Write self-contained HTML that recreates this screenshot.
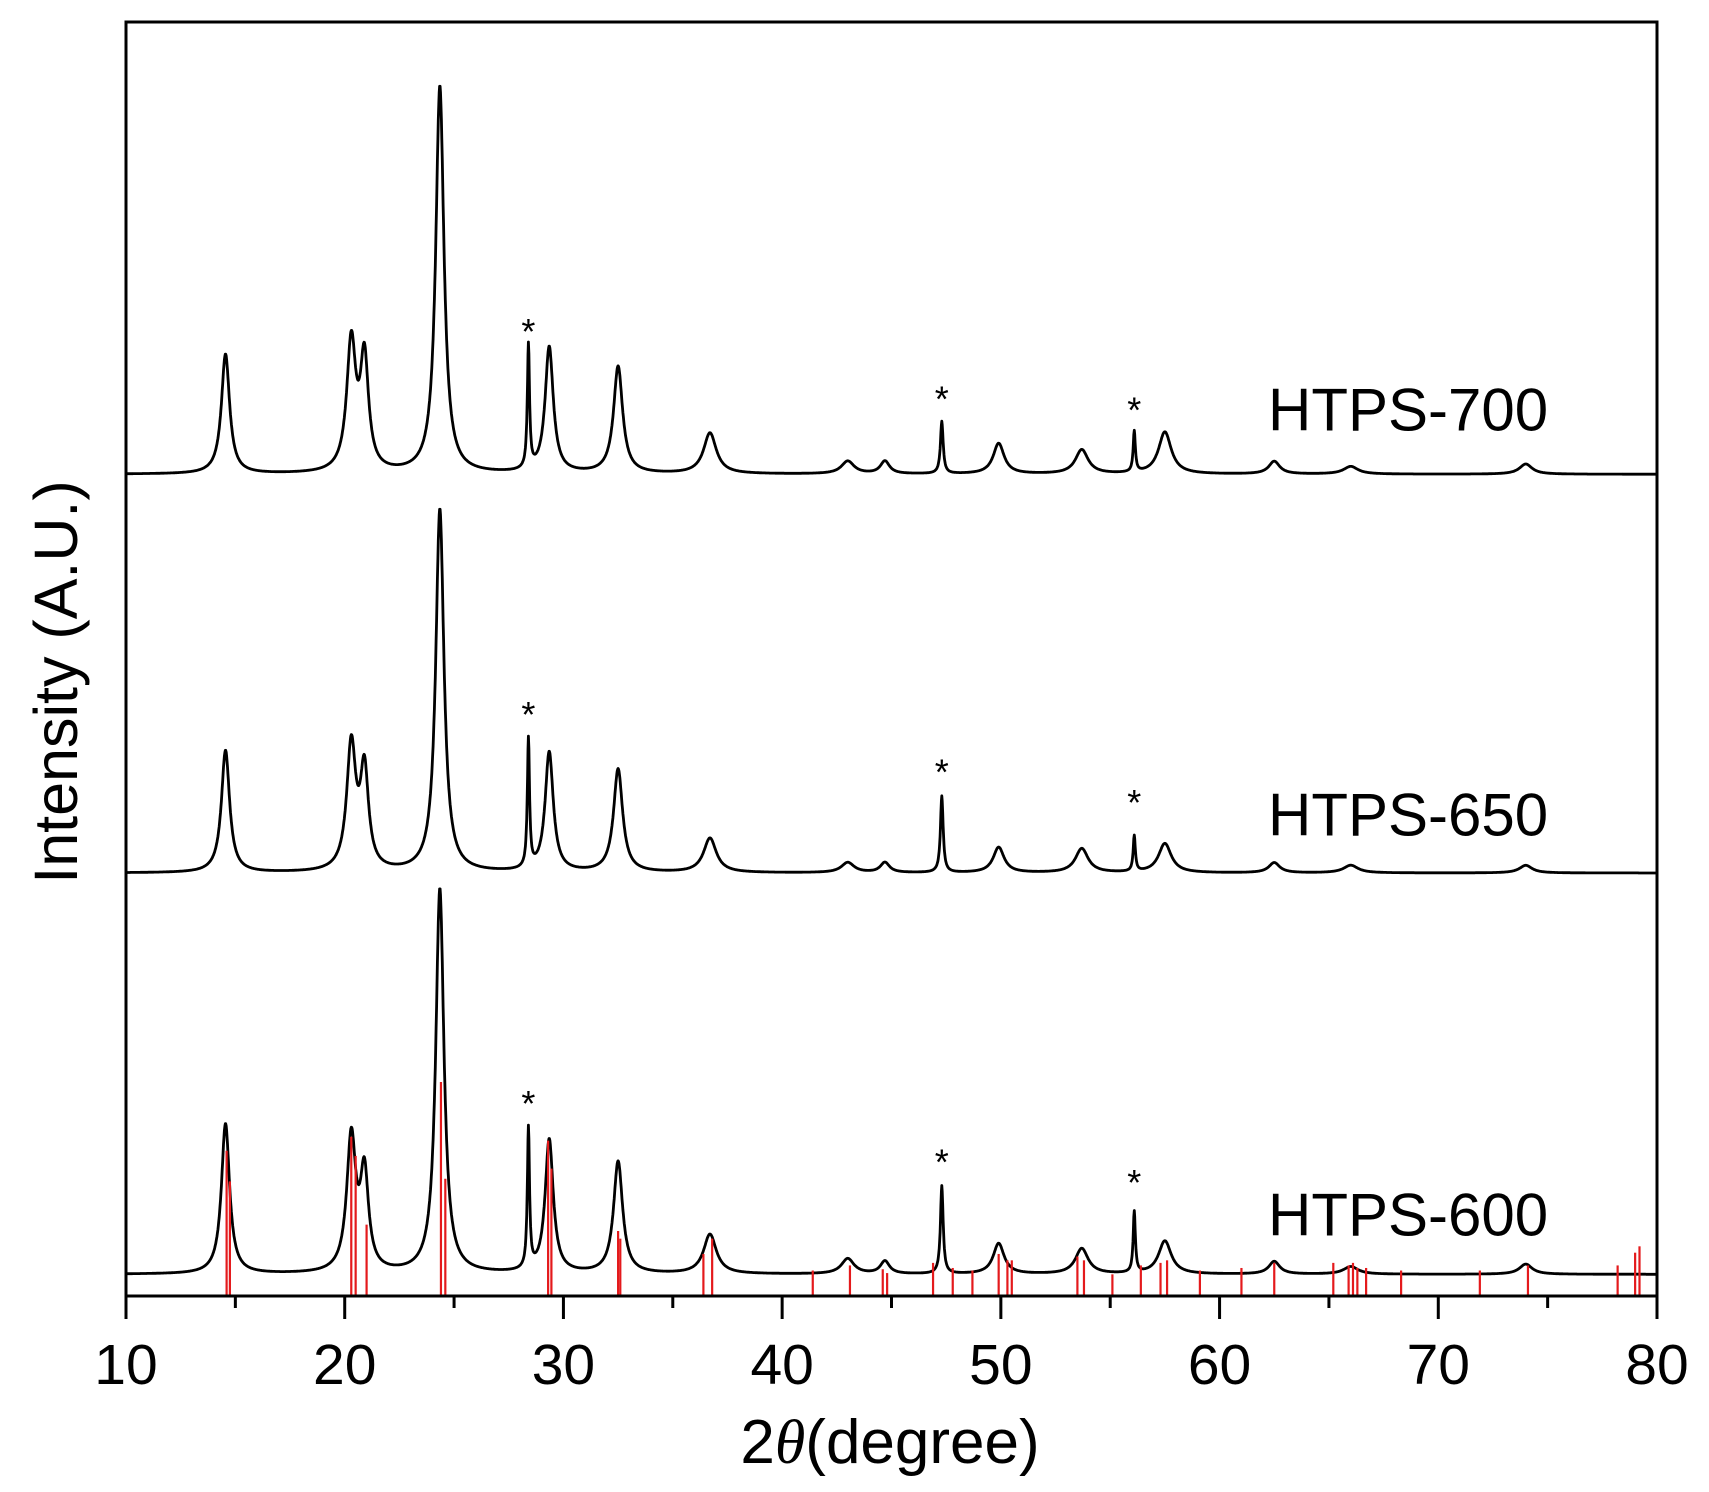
<!DOCTYPE html>
<html><head><meta charset="utf-8"><style>
html,body{margin:0;padding:0;background:#fff;}
svg{display:block;font-family:"Liberation Sans",Arial,sans-serif;}
</style></head><body>
<svg id="chart" width="1709" height="1492" viewBox="0 0 1709 1492" xmlns="http://www.w3.org/2000/svg">
<g id="series"></g>
<g id="refs"></g>
<g id="axes"></g>
<g id="labels"></g>
</svg>
<script>
// ---- data ----
const xTicks = [10,20,30,40,50,60,70,80];
const minorTicks = [15,25,35,45,55,65,75];
const seriesNames = ["HTPS-700","HTPS-650","HTPS-600"];
const seriesBaselines = [64.5, 33.2, 1.7];
const peakPositions = [14.55,20.3,20.9,24.35,28.4,29.35,32.5,36.7,43.0,44.7,47.3,49.9,53.7,56.1,57.5,62.5,66.0,74.0];
const peakWidths =    [0.45,0.5,0.45,0.45,0.12,0.45,0.5,0.7,0.7,0.5,0.15,0.6,0.7,0.12,0.7,0.6,0.8,0.7];
const heights700 = [9.4,10.1,8.7,30.4,9.7,9.9,8.4,3.2,1.0,1.0,4.1,2.4,1.9,3.2,3.3,1.0,0.6,0.8];
const heights650 = [9.6,9.8,7.7,28.5,10.1,9.4,8.1,2.7,0.8,0.8,6.0,2.0,1.9,2.8,2.3,0.8,0.6,0.6];
const heights600 = [11.8,10.5,7.5,30.2,11.0,10.5,8.8,3.1,1.2,1.0,6.9,2.4,2.0,4.8,2.6,1.0,0.6,0.8];
const seriesHeights = [heights700, heights650, heights600];
const starPositions = [28.4,47.3,56.1];
const starY700 = [76.0,70.7,69.8];
const starY650 = [45.9,41.4,39.0];
const starY600 = [15.4,10.8,9.2];
const starYs = [starY700, starY650, starY600];
const labelY = [69.6,37.8,6.4];
const refPositions = [14.6,14.75,20.3,20.5,21.0,24.4,24.6,29.3,29.45,32.5,32.6,36.4,36.8,41.4,43.1,44.6,44.8,46.9,47.8,48.7,49.9,50.3,50.5,53.5,53.8,55.1,56.4,57.3,57.6,59.1,61.0,62.5,65.2,65.9,66.1,66.3,66.7,68.3,71.9,74.1,78.2,79.0,79.2];
const refHeights =   [11.4,9.0,12.5,11.0,5.6,16.8,9.2,12.2,10.0,5.1,4.5,3.3,4.5,2.0,2.4,2.1,1.8,2.6,2.2,2.0,3.3,2.8,2.8,3.1,2.8,1.7,2.4,2.6,2.8,2.0,2.2,2.6,2.6,2.4,2.6,2.2,2.2,2.0,2.0,2.4,2.4,3.4,3.9];

// ---- scales ----
const X0=126, X1=1657, YB=1296, YT=22;
const sx = v => X0 + (v-10)/70*(X1-X0);
const sy = v => YB - v/100*(YB-YT);
const NS="http://www.w3.org/2000/svg";
function mk(tag, parent, attrs){const e=document.createElementNS(NS,tag);for(const k in attrs)e.setAttribute(k,attrs[k]);parent.appendChild(e);return e;}

// series
const gS=document.getElementById('series');
seriesNames.forEach((nm,i)=>{
  const hs=seriesHeights[i]; let d="";
  for(let x=10;x<=80.0001;x+=0.02){
    let v=seriesBaselines[i];
    for(let p=0;p<peakPositions.length;p++){const t=(x-peakPositions[p])/(peakWidths[p]/2);v+=hs[p]/(1+t*t);}
    d+=(d?"L":"M")+sx(x).toFixed(1)+" "+sy(v).toFixed(1);
  }
  const path=mk('path',gS,{d:d,fill:'none',stroke:'#000','stroke-width':2.8,'stroke-linejoin':'round'});
  
  
  starPositions.forEach((sp,j)=>{
    const s=mk('text',gS,{x:sx(sp),y:sy(starYs[i][j])+16,'font-size':36,'text-anchor':'middle'});
    s.textContent='*';
    
    
  });
  const l=mk('text',gS,{x:1268,y:sy(labelY[i])+21,'font-size':60});
  l.textContent=nm;
  
  
});

// reference lines
const gR=document.getElementById('refs');
refPositions.forEach((p,i)=>{
  const ln=mk('line',gR,{x1:sx(p),x2:sx(p),y1:sy(0),y2:sy(refHeights[i]),stroke:'#e41a1c','stroke-width':2.2});
  
  
});

// axes
const gA=document.getElementById('axes');
const fr=mk('rect',gA,{x:X0,y:YT,width:X1-X0,height:YB-YT,fill:'none',stroke:'#000','stroke-width':3});


xTicks.forEach(t=>{
  const tk=mk('line',gA,{x1:sx(t),x2:sx(t),y1:YB,y2:YB+23,stroke:'#000','stroke-width':3});
  
  
  const lb=mk('text',gA,{x:sx(t),y:1384,'font-size':57,'text-anchor':'middle'});
  lb.textContent=t;
  
  
});
minorTicks.forEach(t=>{
  const tk=mk('line',gA,{x1:sx(t),x2:sx(t),y1:YB,y2:YB+12,stroke:'#000','stroke-width':3});
  
  
});
const gL=document.getElementById('labels');
const xt=mk('text',gL,{x:890,y:1463,'font-size':62,'text-anchor':'middle'});
xt.innerHTML='2<tspan font-family="Liberation Serif" font-style="italic">θ</tspan>(degree)';


const yt=mk('text',gL,{x:0,y:0,'font-size':61,'text-anchor':'middle',transform:'translate(77,682) rotate(-90)'});
yt.textContent='Intensity (A.U.)';


</script>
</body></html>
